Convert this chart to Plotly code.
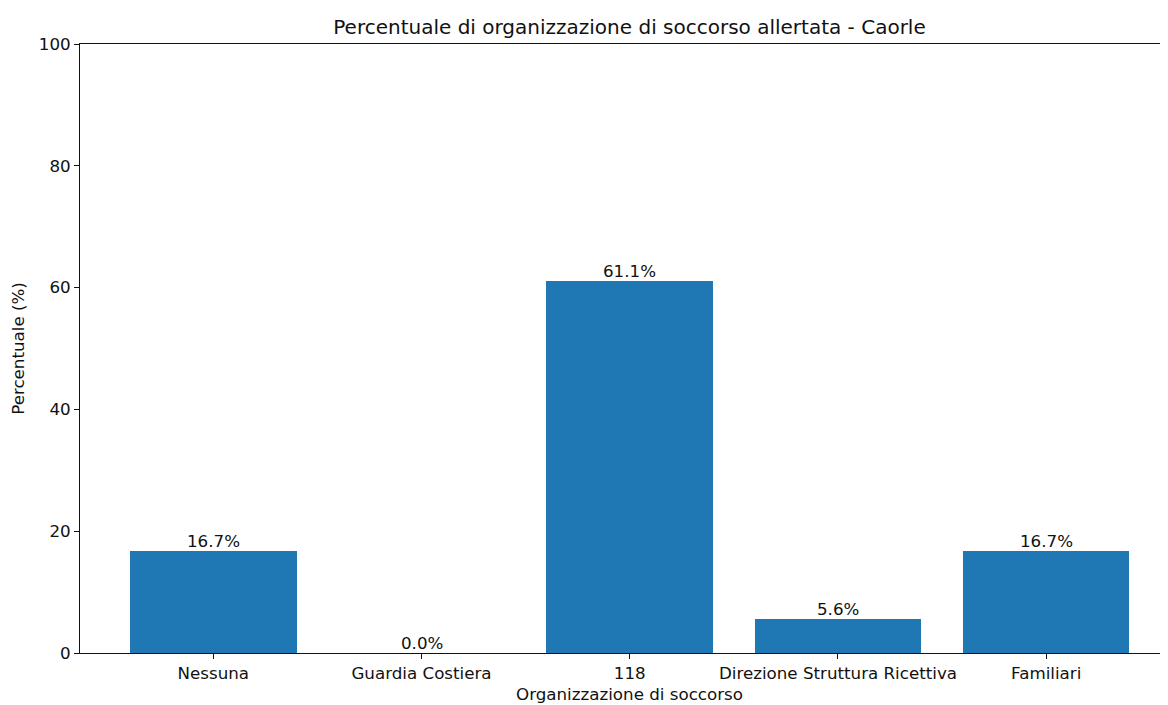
import plotly.graph_objects as go

categories = ["Nessuna", "Guardia Costiera", "118", "Direzione Struttura Ricettiva", "Familiari"]
values = [16.7, 0.0, 61.1, 5.6, 16.7]
y_ticks = [0, 20, 40, 60, 80, 100]

font = "DejaVu Sans"
fs = 16.7
col = "#111111"

xs = list(range(len(categories)))

fig = go.Figure()
fig.add_trace(go.Bar(
    x=xs,
    y=values,
    width=0.8,
    marker=dict(color="#1f77b4", line=dict(width=0)),
    hovertemplate="%{y:.1f}%<extra></extra>",
))

for x, v in zip(xs, values):
    fig.add_annotation(
        x=x, y=v, xref="x", yref="y", text=f"{v:.1f}%",
        showarrow=False, yanchor="bottom", xanchor="center", yshift=-1,
        borderpad=0,
        font=dict(family=font, size=fs, color=col),
    )

W, H = 1160, 697
plot_top, plot_bottom = 36, 645
fig.add_annotation(
    x=2, xref="x", y=(plot_bottom - 686) / (plot_bottom - plot_top), yref="paper",
    text="Organizzazione di soccorso", showarrow=False,
    xanchor="center", yanchor="middle",
    font=dict(family=font, size=fs, color=col),
)

fig.update_layout(
    width=W, height=H,
    margin=dict(l=72, r=0, t=plot_top, b=H - plot_bottom, pad=0),
    paper_bgcolor="white", plot_bgcolor="white",
    showlegend=False,
    bargap=0,
    title=dict(text="Percentuale di organizzazione di soccorso allertata - Caorle",
               x=621.5 / W, xanchor="center", y=1 - 19 / H, yanchor="middle",
               font=dict(family=font, size=20, color=col)),
    font=dict(family=font, size=fs, color=col),
)
fig.update_xaxes(
    range=[-0.64, 4.585],
    tickmode="array", tickvals=xs, ticktext=categories,
    ticks="outside", ticklen=5, tickcolor=col, tickwidth=1,
    showline=True, linecolor=col, linewidth=1, mirror=True,
    showgrid=False, zeroline=False,
    tickfont=dict(family=font, size=fs, color=col),
)
fig.update_yaxes(
    range=[0, 100],
    tickmode="array", tickvals=y_ticks, ticktext=[str(t) for t in y_ticks],
    ticks="outside", ticklen=5, tickcolor=col, tickwidth=1,
    showline=True, linecolor=col, linewidth=1,
    showgrid=False, zeroline=False,
    tickfont=dict(family=font, size=fs, color=col),
    title=dict(text="Percentuale (%)", standoff=10,
               font=dict(family=font, size=fs, color=col)),
)

fig.write_html("out.html")
